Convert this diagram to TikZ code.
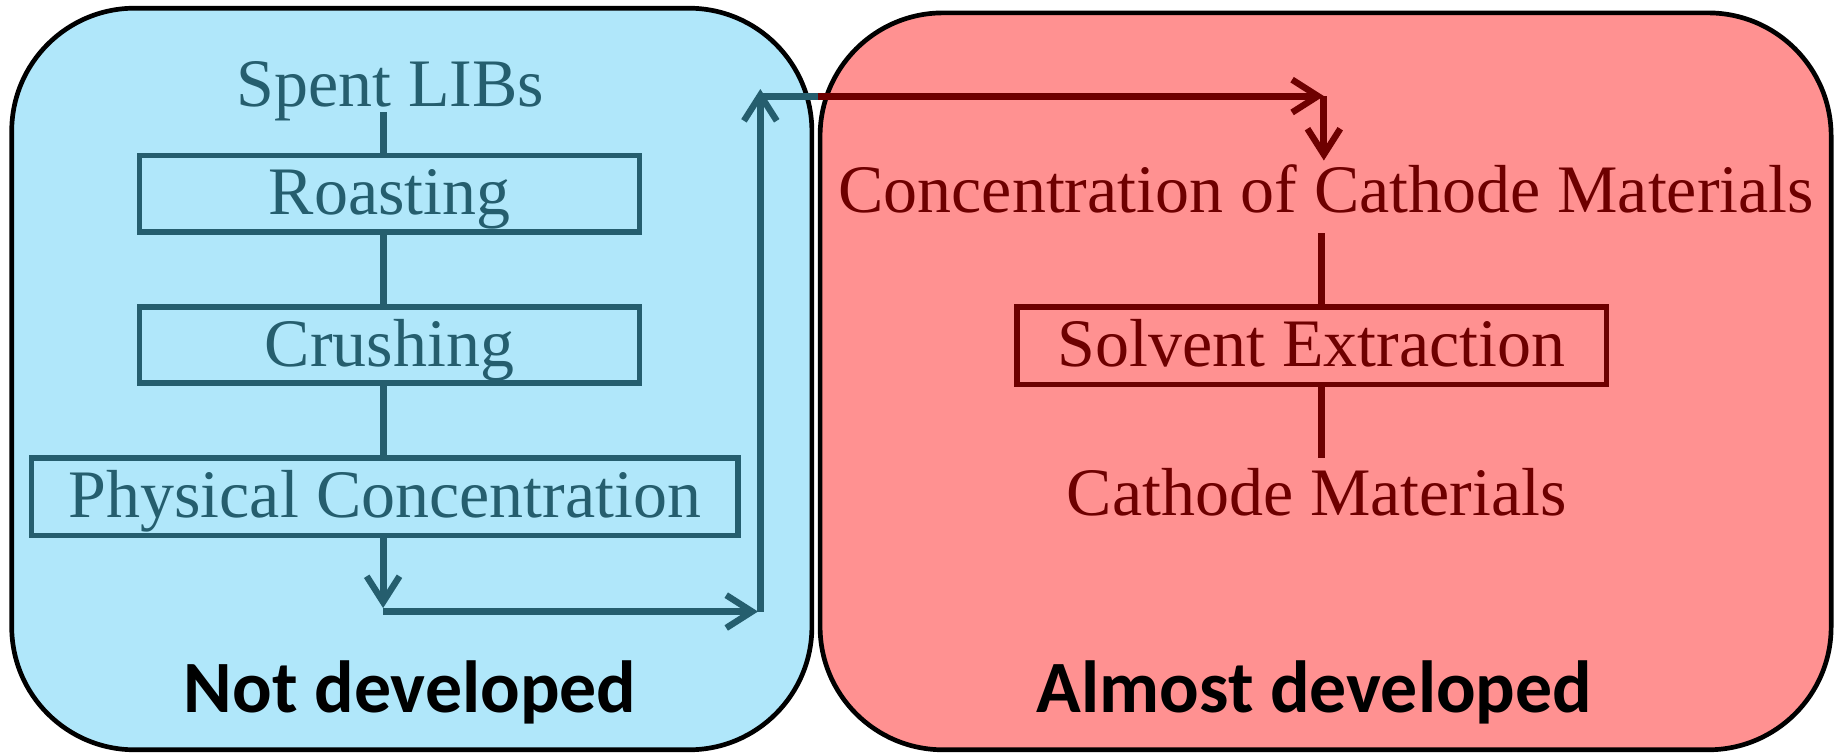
\documentclass[tikz,border=0pt]{standalone}
\usepackage{fontspec}
\setmainfont{Liberation Serif}
\newfontfamily\labfont{Carlito}
\usetikzlibrary{arrows.meta}
\definecolor{bluefill}{HTML}{B0E7FA}
\definecolor{redfill}{HTML}{FF9191}
\definecolor{teal}{HTML}{255E6E}
\definecolor{dred}{HTML}{6E0000}
\tikzset{
  panel/.style={draw=black, line width=4pt, rounded corners=105pt},
  serif/.style={font=\fontsize{58}{62}\selectfont, inner sep=0pt},
  stepbox/.style={serif, draw, line width=4.5pt, text height=43pt, text depth=7pt},
  tline/.style={teal, line width=6pt},
  rline/.style={dred, line width=6pt},
  tip/.style={-{Straight Barb[length=22pt, width=28pt, line width=5.5pt]}},
  caption/.style={font=\labfont\bfseries\fontsize{63}{66}\selectfont, inner sep=0pt, anchor=base, text=black}
}
\begin{document}
\begin{tikzpicture}[x=1pt, y=-1pt]
\useasboundingbox (0,0) rectangle (1568,644);
% panels
\path[panel, fill=bluefill] (10,7) rectangle (693,640);
\path[panel, fill=redfill] (700,11) rectangle (1563,640);
% left flow
\node[serif, anchor=base, text=teal] (spent) at (333,91) {Spent LIBs};
\node[stepbox, draw=teal, text=teal, minimum width=427pt, minimum height=65pt] (roast) at (332.5,165.5) {Roasting};
\node[stepbox, draw=teal, text=teal, minimum width=427pt, minimum height=65pt] (crush) at (332.5,294.5) {Crushing};
\node[stepbox, draw=teal, text=teal, minimum width=603pt, minimum height=66pt] (phys) at (328.5,424) {Physical Concentration};
\coordinate (dtip) at (327,519);
\coordinate (hstart) at (327,522);
\coordinate (hend) at (647,522);
\coordinate (vstart) at (649,522);
\coordinate (vend) at (649,76);
\coordinate (tstart) at (649,82);
\coordinate (tend) at (698,82);
\coordinate (rend) at (1130,82);
\coordinate (spentb) at (327,96);
\draw[tline] (spentb) -- (roast.north -| spentb);
\draw[tline] (roast.south -| spentb) -- (crush.north -| spentb);
\draw[tline] (crush.south -| spentb) -- (phys.north -| spentb);
\draw[tline, tip] (phys.south -| dtip) -- (dtip);
\draw[tline, tip] (hstart) -- (hend);
\draw[tline, tip] (vstart) -- (vend);
\draw[tline] (tstart) -- (tend);
% right flow
\node[serif, anchor=base, text=dred] (conc) at (1132,181) {Concentration of Cathode Materials};
\node[stepbox, draw=dred, text=dred, minimum width=503pt, minimum height=66pt] (solv) at (1119.5,295) {Solvent Extraction};
\node[serif, anchor=base, text=dred] (cath) at (1124,440) {Cathode Materials};
\coordinate (cdown) at (1130,137);
\coordinate (concb) at (1128,199);
\coordinate (catht) at (1128,391);
\draw[rline, tip] (tend) -- (rend);
\draw[rline, tip] (rend) -- (cdown);
\draw[rline] (concb) -- (solv.north -| concb);
\draw[rline] (solv.south -| concb) -- (catht);
% captions
\node[caption] (nd) at (350,608) {Not developed};
\node[caption] (ad) at (1122,608) {Almost developed};
\end{tikzpicture}
\end{document}
